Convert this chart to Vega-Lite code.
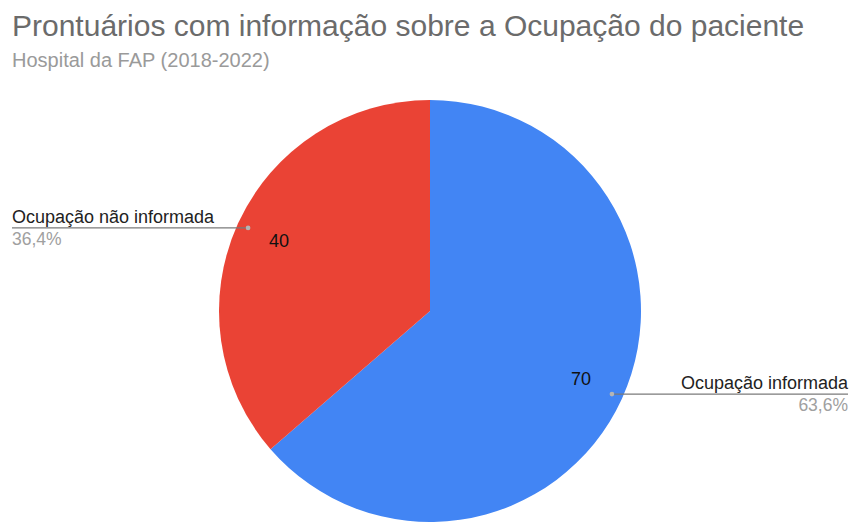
{
  "$schema": "https://vega.github.io/schema/vega-lite/v6.json",
  "width": 840,
  "height": 422,
  "autosize": {"type": "none"},
  "padding": {"left": 10, "top": 100, "right": 0, "bottom": 6},
  "background": "white",
  "config": {"view": {"stroke": null}, "font": "Liberation Sans"},
  "title": {
    "text": "Prontuários com informação sobre a Ocupação do paciente",
    "subtitle": "Hospital da FAP (2018-2022)",
    "anchor": "start",
    "frame": "group",
    "dx": 2,
    "offset": 29,
    "font": "Liberation Sans",
    "fontSize": 30,
    "fontWeight": "normal",
    "color": "#6b6b6b",
    "subtitleFont": "Liberation Sans",
    "subtitleFontSize": 20,
    "subtitleColor": "#9a9a9a",
    "subtitlePadding": 9
  },
  "data": {
    "values": [
      {"categoria": "Ocupação informada", "valor": 70, "pct": "63,6%"},
      {"categoria": "Ocupação não informada", "valor": 40, "pct": "36,4%"}
    ]
  },
  "transform": [
    {"joinaggregate": [{"op": "sum", "field": "valor", "as": "total"}]},
    {"window": [{"op": "sum", "field": "valor", "as": "acum"}], "sort": [{"field": "categoria", "order": "ascending"}], "frame": [null, 0]},
    {"calculate": "2 * PI * (datum.acum - datum.valor / 2) / datum.total", "as": "ang"},
    {"calculate": "200 * sin(datum.ang)", "as": "px"},
    {"calculate": "200 * cos(datum.ang)", "as": "py"},
    {"calculate": "166 * sin(datum.ang)", "as": "vx"},
    {"calculate": "166 * cos(datum.ang)", "as": "vy"},
    {"calculate": "datum.px < 0 ? -418 : 418", "as": "borda"}
  ],
  "layer": [
    {
      "mark": {"type": "arc", "stroke": null},
      "encoding": {
        "theta": {"field": "valor", "type": "quantitative", "stack": true},
        "order": {"field": "categoria", "type": "ordinal", "sort": "ascending"},
        "color": {
          "field": "categoria",
          "type": "nominal",
          "scale": {"domain": ["Ocupação informada", "Ocupação não informada"], "range": ["#4285F4", "#EA4335"]},
          "legend": null
        }
      }
    },
    {
      "mark": {"type": "text", "fontSize": 18, "color": "#111", "align": "center", "baseline": "middle"},
      "encoding": {
        "x": {"field": "vx", "type": "quantitative", "scale": {"domain": [-420, 420], "zero": false, "nice": false}, "axis": null},
        "y": {"field": "vy", "type": "quantitative", "scale": {"domain": [-211, 211], "zero": false, "nice": false}, "axis": null},
        "text": {"field": "valor", "type": "quantitative"}
      }
    },
    {
      "mark": {"type": "rule", "color": "#7a7a7a", "strokeWidth": 1.2},
      "encoding": {
        "x": {"field": "px", "type": "quantitative"},
        "x2": {"field": "borda"},
        "y": {"field": "py", "type": "quantitative"}
      }
    },
    {
      "mark": {"type": "point", "filled": true, "size": 22, "color": "#b5b5b5", "opacity": 1},
      "encoding": {
        "x": {"field": "px", "type": "quantitative"},
        "y": {"field": "py", "type": "quantitative"}
      }
    },
    {
      "transform": [{"filter": "datum.px < 0"}],
      "layer": [
        {
          "mark": {"type": "text", "align": "left", "baseline": "alphabetic", "dy": -5, "fontSize": 18, "color": "#222"},
          "encoding": {
            "x": {"field": "borda", "type": "quantitative"},
            "y": {"field": "py", "type": "quantitative"},
            "text": {"field": "categoria"}
          }
        },
        {
          "mark": {"type": "text", "align": "left", "baseline": "top", "dy": 3, "fontSize": 17.5, "color": "#a0a0a0"},
          "encoding": {
            "x": {"field": "borda", "type": "quantitative"},
            "y": {"field": "py", "type": "quantitative"},
            "text": {"field": "pct"}
          }
        }
      ]
    },
    {
      "transform": [{"filter": "datum.px > 0"}],
      "layer": [
        {
          "mark": {"type": "text", "align": "right", "baseline": "alphabetic", "dy": -5, "fontSize": 18, "color": "#222"},
          "encoding": {
            "x": {"field": "borda", "type": "quantitative"},
            "y": {"field": "py", "type": "quantitative"},
            "text": {"field": "categoria"}
          }
        },
        {
          "mark": {"type": "text", "align": "right", "baseline": "top", "dy": 3, "fontSize": 17.5, "color": "#a0a0a0"},
          "encoding": {
            "x": {"field": "borda", "type": "quantitative"},
            "y": {"field": "py", "type": "quantitative"},
            "text": {"field": "pct"}
          }
        }
      ]
    }
  ]
}
